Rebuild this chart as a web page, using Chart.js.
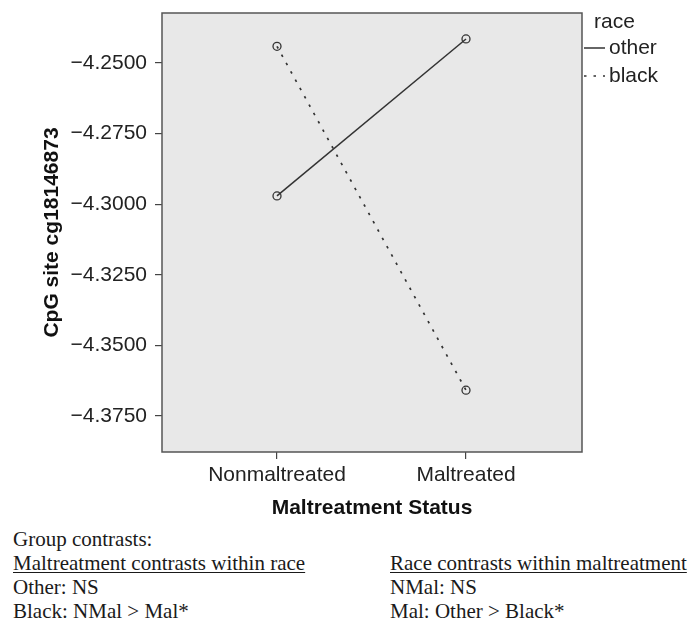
<!DOCTYPE html>
<html>
<head>
<meta charset="utf-8">
<script src="https://cdn.jsdelivr.net/npm/chart.js@4.4.0/dist/chart.umd.min.js"></script>
<style>
  body { margin: 0; background: #fff; width: 693px; height: 620px; position: relative; overflow: hidden; }
  #wrap { position: absolute; left: 0; top: 0; width: 693px; height: 525px; }
  .note { position: absolute; font: 21px "Liberation Serif", "Times New Roman", serif; line-height: 24px; color: #1a1a1a; white-space: nowrap; }
  .note u { text-decoration-thickness: 1px; text-underline-offset: 2px; }
</style>
</head>
<body>
<div id="wrap"><canvas id="chart"></canvas></div>
<div class="note" style="left:13px; top:527px">Group contrasts:<br><u>Maltreatment contrasts within race</u><br>Other: NS<br>Black: NMal &gt; Mal*</div>
<div class="note" style="left:390px; top:551px"><u>Race contrasts within maltreatment</u><br>NMal: NS<br>Mal: Other &gt; Black*</div>
<script>
const categories = ["Nonmaltreated", "Maltreated"];
const raceGroups = ["other", "black"];
const otherValues = [-4.2971, -4.2415];
const blackValues = [-4.2441, -4.3659];
const yTickValues = [-4.25, -4.275, -4.3, -4.325, -4.35, -4.375];
const yTickLabels = ["\u22124.2500", "\u22124.2750", "\u22124.3000", "\u22124.3250", "\u22124.3500", "\u22124.3750"];
const legendTitle = "race";

Chart.defaults.font.family = '"Liberation Sans", Arial, sans-serif';
Chart.defaults.color = "#222";

const toPoints = vals => vals.map((v, i) => ({ x: i, y: v }));

// grey plot panel, frame and the SPSS style legend
const frame = {
  id: "frame",
  beforeDatasetsDraw(chart) {
    const { ctx, chartArea: a } = chart;
    ctx.save();
    ctx.fillStyle = "#e8e8e8";
    ctx.fillRect(a.left, a.top, a.width, a.height);
    ctx.restore();
  },
  afterDraw(chart) {
    const { ctx, chartArea: a } = chart;
    ctx.save();
    ctx.strokeStyle = "#555";
    ctx.lineWidth = 1.5;
    ctx.strokeRect(a.left, a.top, a.width, a.height);

    ctx.font = '21px "Liberation Sans", Arial, sans-serif';
    ctx.fillStyle = "#222";
    ctx.textBaseline = "middle";
    ctx.textAlign = "left";
    ctx.fillText(legendTitle, a.right + 12, a.top + 9);
    chart.data.datasets.forEach((ds, i) => {
      const y = a.top + 35 + i * 28;
      ctx.strokeStyle = ds.borderColor;
      ctx.lineWidth = ds.borderWidth;
      ctx.setLineDash(ds.borderDash || []);
      ctx.beginPath();
      ctx.moveTo(a.right + 2, y);
      ctx.lineTo(a.right + 23, y);
      ctx.stroke();
      ctx.setLineDash([]);
      ctx.fillText(ds.label, a.right + 27, y);
    });
    ctx.restore();
  }
};

const ctx = document.getElementById("chart").getContext("2d");
new Chart(ctx, {
  type: "line",
  data: {
    datasets: [
      {
        label: raceGroups[0],
        data: toPoints(otherValues),
        borderColor: "#333",
        borderWidth: 1.5,
        pointRadius: 4,
        pointBorderWidth: 1.3,
        pointBackgroundColor: "rgba(0,0,0,0)",
        pointBorderColor: "#333"
      },
      {
        label: raceGroups[1],
        data: toPoints(blackValues),
        borderColor: "#333",
        borderWidth: 1.7,
        borderDash: [2.5, 7],
        pointRadius: 4,
        pointBorderWidth: 1.3,
        pointBackgroundColor: "rgba(0,0,0,0)",
        pointBorderColor: "#333"
      }
    ]
  },
  options: {
    responsive: true,
    maintainAspectRatio: false,
    animation: false,
    layout: { padding: { top: 13, right: 111, left: 0, bottom: 0 } },
    plugins: { legend: { display: false }, tooltip: { enabled: false } },
    scales: {
      x: {
        type: "linear",
        min: -0.6085,
        max: 1.6138,
        afterBuildTicks: s => { s.ticks = categories.map((c, i) => ({ value: i })); },
        afterFit: s => { s.height = 73; s.paddingLeft = 0; s.paddingRight = 0; },
        border: { display: false },
        grid: { drawOnChartArea: false, tickLength: 7, color: "#444", lineWidth: 1.2 },
        ticks: {
          padding: 4,
          font: { size: 21 },
          color: "#222",
          callback: v => categories[v]
        },
        title: {
          display: true,
          text: "Maltreatment Status",
          font: { size: 21, weight: "bold" },
          color: "#111",
          padding: { top: 0, bottom: 4.4 }
        }
      },
      y: {
        min: -4.3878,
        max: -4.2323,
        afterBuildTicks: s => { s.ticks = yTickValues.map(v => ({ value: v })); },
        afterFit: s => { s.width = 162; s.paddingTop = 0; s.paddingBottom = 0; },
        border: { display: false },
        grid: { drawOnChartArea: false, tickLength: 7, color: "#444", lineWidth: 1.2 },
        ticks: {
          padding: 8,
          font: { size: 21 },
          color: "#222",
          callback: (v, i) => yTickLabels[i]
        },
        title: {
          display: true,
          text: "CpG site cg18146873",
          font: { size: 21, weight: "bold" },
          color: "#111",
          padding: { top: 39.4, bottom: 0 }
        }
      }
    }
  },
  plugins: [frame]
});
</script>
</body>
</html>
